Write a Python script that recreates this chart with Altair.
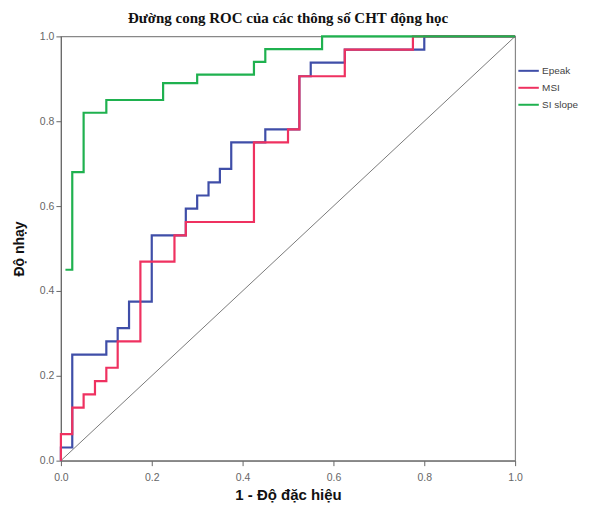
import altair as alt
import pandas as pd

# ROC corner points (1 - specificity, sensitivity)
series_names = ["Epeak", "MSI", "SI slope"]
series_colors = ["#3f4ea8", "#ef3160", "#1fb14f"]

epeak_x = [0.0, 0.0, 0.025, 0.1, 0.125, 0.15, 0.2, 0.275, 0.3, 0.325, 0.35, 0.375, 0.45, 0.525, 0.55, 0.625, 0.8, 1.0]
epeak_y = [0.0, 0.031, 0.25, 0.281, 0.3125, 0.375, 0.531, 0.594, 0.625, 0.656, 0.6875, 0.75, 0.781, 0.906, 0.938, 0.969, 1.0, 1.0]

msi_x = [0.0, 0.0, 0.025, 0.05, 0.075, 0.1, 0.125, 0.175, 0.25, 0.275, 0.425, 0.5, 0.525, 0.625, 0.775, 1.0]
msi_y = [0.0, 0.0625, 0.125, 0.156, 0.1875, 0.219, 0.281, 0.469, 0.531, 0.5625, 0.75, 0.781, 0.906, 0.969, 1.0, 1.0]

slope_x = [0.01, 0.025, 0.05, 0.1, 0.225, 0.3, 0.425, 0.45, 0.575, 1.0]
slope_y = [0.45, 0.68, 0.82, 0.85, 0.89, 0.91, 0.94, 0.97, 1.0, 1.0]

diag_x = [0.0, 1.0]
diag_y = [0.0, 1.0]

tick_values = [0.0, 0.2, 0.4, 0.6, 0.8, 1.0]

rows = []
for name, xs, ys in zip(series_names, [epeak_x, msi_x, slope_x], [epeak_y, msi_y, slope_y]):
    for i, (xv, yv) in enumerate(zip(xs, ys)):
        rows.append({"series": name, "i": i, "x": xv, "y": yv})
df = pd.DataFrame(rows)
diag_df = pd.DataFrame({"x": diag_x, "y": diag_y})

xscale = alt.Scale(domain=[0, 1], nice=False)
yscale = alt.Scale(domain=[0, 1], nice=False)

x_axis = alt.Axis(values=tick_values, format=".1f", grid=False, title="1 - Độ đặc hiệu",
                  labelFont="Liberation Sans", labelFontSize=10.5, labelColor="#666666",
                  titleFont="Liberation Sans", titleFontSize=15, titleFontWeight="bold",
                  titleColor="#111111", tickSize=5, labelPadding=7, titlePadding=4,
                  domainColor="#666666", tickColor="#666666", labelFlush=False)
y_axis = alt.Axis(values=tick_values, format=".1f", grid=False, title="Độ nhạy",
                  labelFont="Liberation Sans", labelFontSize=10.5, labelColor="#666666",
                  titleFont="Liberation Sans", titleFontSize=14, titleFontWeight="bold",
                  titleColor="#111111", tickSize=5, labelPadding=2, titlePadding=13,
                  domainColor="#666666", tickColor="#666666", labelFlush=False)

diag = alt.Chart(diag_df).mark_line(color="#7a7a7a", strokeWidth=1).encode(
    x=alt.X("x:Q", scale=xscale, axis=x_axis),
    y=alt.Y("y:Q", scale=yscale, axis=y_axis),
)

curves = alt.Chart(df).mark_line(interpolate="step-after", strokeWidth=2.2).encode(
    x=alt.X("x:Q", scale=xscale, axis=x_axis),
    y=alt.Y("y:Q", scale=yscale, axis=y_axis),
    order=alt.Order("i:Q"),
    color=alt.Color("series:N",
                    scale=alt.Scale(domain=series_names, range=series_colors),
                    legend=alt.Legend(title=None, orient="none", legendX=457, legendY=23,
                                      symbolType="stroke", symbolSize=420, symbolStrokeWidth=2,
                                      labelFont="Liberation Sans", labelFontSize=10,
                                      labelColor="#444444", labelOffset=2, rowPadding=-4)),
)

chart = alt.layer(diag, curves).properties(
    width=455,
    height=425,
    title=alt.TitleParams("Đường cong ROC của các thông số CHT động học",
                          font="Liberation Serif", fontSize=15, fontWeight="bold",
                          color="#111111", anchor="middle", offset=5),
    autosize=alt.AutoSizeParams(type="none"),
    padding={"left": 53, "top": 28, "right": 70, "bottom": 44},
).configure_view(stroke="#888888", strokeWidth=1.2)

chart.save("out.html", embed_options={"renderer": "svg", "actions": False})
